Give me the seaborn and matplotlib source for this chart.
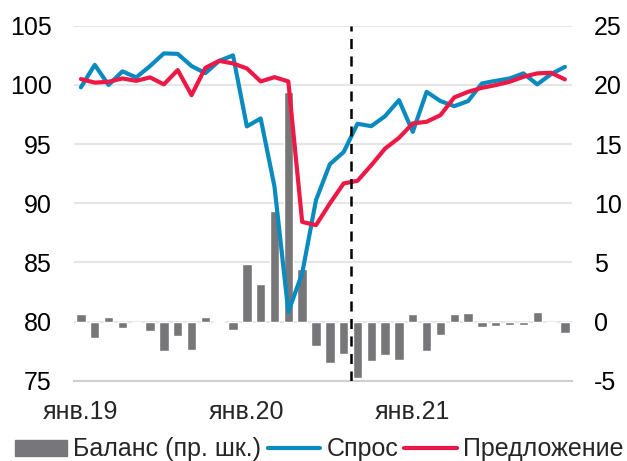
import numpy as np
import pandas as pd
import matplotlib
matplotlib.use("Agg")
import matplotlib.pyplot as plt
from matplotlib.patches import Patch
from matplotlib.lines import Line2D
import seaborn as sns

# monthly data, Jan 2019 - Dec 2021
months = pd.date_range("2019-01-01", periods=36, freq="MS")

balance = [0.62, -1.38, 0.39, -0.5, -0.14, -0.79, -2.5, -1.24, -2.42, 0.42, 0.02, -0.68,
           4.87, 3.18, 9.38, 19.44, 4.45, -2.06, -3.52, -2.73, -4.79, -3.3, -2.82, -3.21,
           0.68, -2.5, -1.13, 0.68, 0.73, -0.42, -0.37, -0.25, -0.25, 0.85, -0.08, -0.99]

demand = [99.8, 101.7, 100.0, 101.15, 100.64, 101.6, 102.67, 102.63, 101.6, 101.0, 102.04, 102.5,
          96.5, 97.17, 91.4, 80.83, 84.07, 90.27, 93.3, 94.33, 96.72, 96.52, 97.37, 98.72,
          96.04, 99.42, 98.64, 98.21, 98.64, 100.13, 100.35, 100.55, 100.98, 100.05, 100.92, 101.53]

supply = [100.5, 100.2, 100.27, 100.55, 100.35, 100.64, 100.05, 101.26, 99.14, 101.45, 102.04, 101.82,
          101.4, 100.3, 100.66, 100.3, 88.43, 88.15, 89.98, 91.68, 91.9, 93.22, 94.63, 95.53,
          96.75, 96.89, 97.45, 98.95, 99.42, 99.76, 99.99, 100.27, 100.69, 100.98, 101.03, 100.47]

tick_labels = ["янв.19", "янв.20", "янв.21"]

df = pd.DataFrame({"month": months, "idx": np.arange(len(months)),
                   "balance": balance, "demand": demand, "supply": supply})

sns.set_theme(style="white")
plt.rcParams["font.family"] = ["Liberation Sans", "DejaVu Sans"]
plt.rcParams["axes.unicode_minus"] = False

c_bar = "#77777a"
c_blue = "#0a8bbf"
c_red = "#ee1846"
c_grid = "#e6e6e6"
fs = 18

fig = plt.figure(figsize=(6.27, 4.61), dpi=100)
ax = fig.add_axes([0.118, 0.174, 0.794, 0.770])

# bars on the primary axis (right scale), lines on the twin (left scale)
sns.barplot(data=df, x="idx", y="balance", color=c_bar, width=0.68,
            saturation=1, ax=ax)
ax.set_ylim(-5, 25)
ax.set_xlim(-0.5, 35.5)
for y in np.arange(0, 26, 5):
    ax.axhline(y, color=c_grid, lw=1.5, zorder=0)

ax2 = ax.twinx()
sns.lineplot(data=df, x="idx", y="demand", color=c_blue, lw=3, ax=ax2)
sns.lineplot(data=df, x="idx", y="supply", color=c_red, lw=3, ax=ax2)
ax2.set_ylim(75, 105)
ax2.axvline(19.5, color="black", lw=1.8, ls=(0, (4, 3)))

# swap sides: balance scale on the right, index scale on the left
ax.yaxis.tick_right()
ax2.yaxis.tick_left()
ax.set_yticks(np.arange(-5, 26, 5))
ax2.set_yticks(np.arange(75, 106, 5))

for a in (ax, ax2):
    a.set_xlabel("")
    a.set_ylabel("")
    for s in a.spines.values():
        s.set_visible(False)
    a.tick_params(axis="y", length=0, labelsize=fs, colors="black", pad=16)

ax.spines["bottom"].set_visible(True)
ax.spines["bottom"].set_color("#cfcfcf")
ax.spines["bottom"].set_linewidth(1.5)

ax.set_xticks([-0.5, 11.5, 23.5, 35.5])
ax.set_xticklabels([])
ax.set_xticks([0, 12, 24], minor=True)
ax.set_xticklabels(tick_labels, minor=True)
ax.tick_params(axis="x", which="major", direction="in", length=6, width=1.5, color="#cfcfcf")
ax.tick_params(axis="x", which="minor", length=0, pad=14, labelsize=fs)
ax2.set_xlim(-0.5, 35.5)

handles = [Patch(color=c_bar), Line2D([], [], color=c_blue, lw=3),
           Line2D([], [], color=c_red, lw=3)]
fig.legend(handles, ["Баланс (пр. шк.)", "Спрос", "Предложение"],
           loc="center", bbox_to_anchor=(0.509, 0.025), ncol=3, frameon=False,
           fontsize=fs, handlelength=2.1, handleheight=0.6, handletextpad=0.25,
           columnspacing=0.25, borderaxespad=0, borderpad=0)

fig.savefig("out.png", dpi=100)
